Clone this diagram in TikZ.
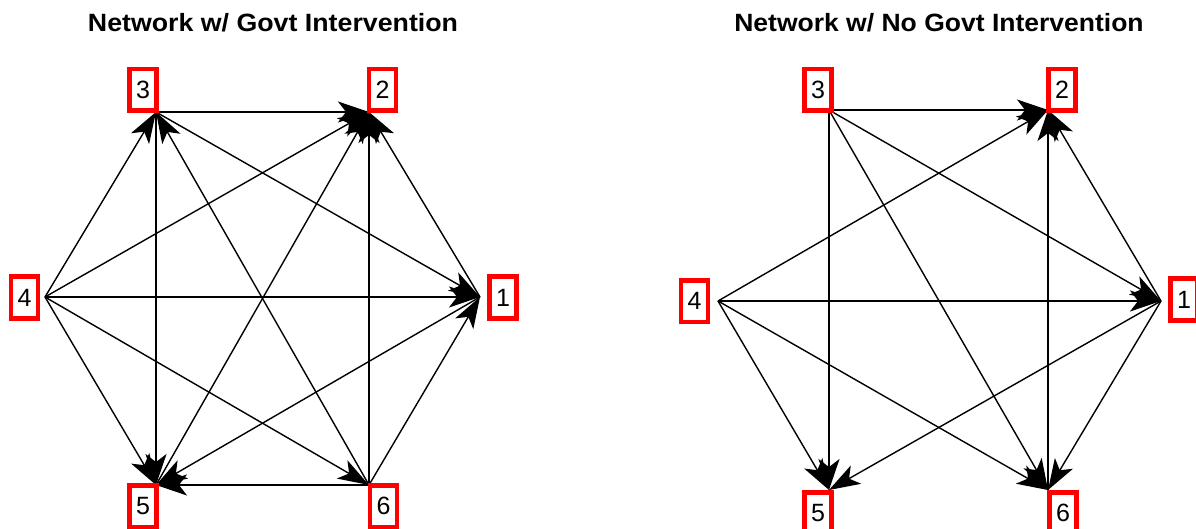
\documentclass[tikz,border=0pt]{standalone}
\usepackage{fontspec}
\setmainfont{Liberation Sans}
\usetikzlibrary{arrows.meta}
\begin{document}
\begin{tikzpicture}[x=1pt,y=-1pt,
  lbl/.style={draw=red, line width=4.5pt, fill=white, minimum width=27pt, minimum height=41.5pt, inner sep=0pt, font=\fontsize{25}{30}\selectfont},
  edge/.style={line width=1.4pt, -{Stealth[length=31pt,width=21pt,inset=8pt]}},
  ttl/.style={font=\bfseries\fontsize{25}{30}\selectfont}]
\useasboundingbox (0,0) rectangle (1196,529);
% titles
\node[ttl] (t1) at (273,23) {\scalebox{1.07}[1]{Network w/ Govt Intervention}};
\node[ttl] (t2) at (939,23) {\scalebox{1.06}[1]{Network w/ No Govt Intervention}};
% left vertices
\coordinate (L1) at (480,297);
\coordinate (L2) at (369,112);
\coordinate (L3) at (156,112);
\coordinate (L4) at (45,297);
\coordinate (L5) at (156,485);
\coordinate (L6) at (369,485);
% right vertices
\coordinate (R1) at (1161,301);
\coordinate (R2) at (1048,110);
\coordinate (R3) at (829,110);
\coordinate (R4) at (718,301);
\coordinate (R5) at (829,490);
\coordinate (R6) at (1048,490);
% left edges
\draw[edge] (L3) -- (L2);
\draw[edge] (L4) -- (L3);
\draw[edge] (L3) -- (L5);
\draw[edge] (L6) -- (L3);
\draw[edge] (L3) -- (L1);
\draw[edge] (L4) -- (L2);
\draw[edge] (L5) -- (L2);
\draw[edge] (L6) -- (L2);
\draw[edge] (L1) -- (L2);
\draw[edge] (L4) -- (L1);
\draw[edge] (L4) -- (L5);
\draw[edge] (L4) -- (L6);
\draw[edge] (L1) -- (L5);
\draw[edge] (L6) -- (L5);
\draw[edge] (L6) -- (L1);
% right edges
\draw[edge] (R3) -- (R2);
\draw[edge] (R3) -- (R5);
\draw[edge] (R3) -- (R6);
\draw[edge] (R3) -- (R1);
\draw[edge] (R4) -- (R2);
\draw[edge] (R4) -- (R1);
\draw[edge] (R4) -- (R5);
\draw[edge] (R4) -- (R6);
\draw[edge] (R6) -- (R2);
\draw[edge] (R1) -- (R2);
\draw[edge] (R1) -- (R5);
\draw[edge] (R1) -- (R6);
% left labels
\node[lbl] (l1) at (503,297.5) {1};
\node[lbl] (l2) at (382.5,90) {2};
\node[lbl] (l3) at (143,90) {3};
\node[lbl] (l4) at (24.5,297.5) {4};
\node[lbl] (l5) at (143,506) {5};
\node[lbl] (l6) at (383.5,506) {6};
% right labels
\node[lbl] (r1) at (1184,299.5) {1};
\node[lbl] (r2) at (1062,90) {2};
\node[lbl] (r3) at (818,90) {3};
\node[lbl] (r4) at (694.5,301) {4};
\node[lbl] (r5) at (818,513) {5};
\node[lbl] (r6) at (1063,513) {6};
\end{tikzpicture}
\end{document}
